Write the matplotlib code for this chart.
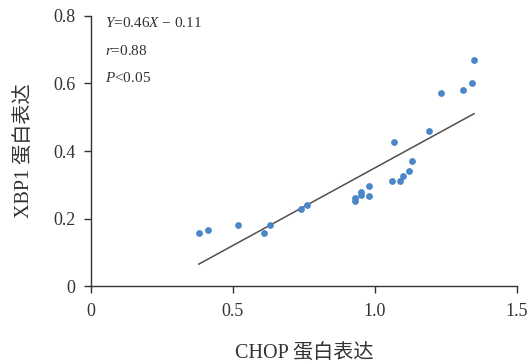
import matplotlib
matplotlib.use('Agg')
import matplotlib.pyplot as plt

# CHOP vs XBP1 protein expression
chop = [0.380, 0.412, 0.519, 0.611, 0.631, 0.741, 0.761, 0.930, 0.930, 0.951,
        0.951, 0.980, 0.980, 1.061, 1.069, 1.089, 1.100, 1.120, 1.130, 1.191,
        1.234, 1.310, 1.342, 1.349]
xbp1 = [0.158, 0.167, 0.181, 0.158, 0.181, 0.228, 0.240, 0.251, 0.260, 0.271,
        0.280, 0.268, 0.297, 0.310, 0.428, 0.310, 0.327, 0.341, 0.371, 0.458,
        0.571, 0.580, 0.600, 0.670]
slope, intercept = 0.46, -0.11
xticks = [0, 0.5, 1.0, 1.5]
xticklabels = ['0', '0.5', '1.0', '1.5']
yticks = [0, 0.2, 0.4, 0.6, 0.8]
yticklabels = ['0', '0.2', '0.4', '0.6', '0.8']

serif = ['Liberation Serif', 'Noto Sans CJK SC']
plt.rcParams['font.family'] = serif
plt.rcParams['mathtext.fontset'] = 'custom'
plt.rcParams['mathtext.it'] = 'Liberation Serif:italic'
plt.rcParams['mathtext.rm'] = 'Liberation Serif'

fig = plt.figure(figsize=(5.28, 3.63), dpi=100)
ax = fig.add_axes([0.172, 0.212, 0.807, 0.744])

ax.scatter(chop, xbp1, s=24, color='#4a86c8', zorder=3, linewidths=0)
x0, x1 = min(chop), max(chop)
ax.plot([x0, x1], [slope * x0 + intercept, slope * x1 + intercept],
        color='#505050', lw=1.1, zorder=2)

ax.set_xlim(0, 1.5)
ax.set_ylim(0, 0.8)
ax.set_xticks(xticks)
ax.set_xticklabels(xticklabels)
ax.set_yticks(yticks)
ax.set_yticklabels(yticklabels)
ax.spines['top'].set_visible(False)
ax.spines['right'].set_visible(False)
for s in ('left', 'bottom'):
    ax.spines[s].set_color('#333333')
    ax.spines[s].set_linewidth(1.0)
ax.tick_params(axis='both', direction='out', length=5, width=1.0,
               color='#333333', labelsize=13, labelcolor='#333333')
ax.tick_params(axis='x', pad=7)
ax.tick_params(axis='y', pad=6)

ax.set_xlabel('CHOP 蛋白表达', fontsize=14.5, color='#333333', labelpad=18)
ax.set_ylabel('XBP1 蛋白表达', fontsize=14.5, color='#333333', labelpad=13)

ax.text(0.05, 0.779, r'$Y$=0.46$X$ $-$ 0.11', fontsize=11, color='#333333', va='center')
ax.text(0.05, 0.696, r'$r$=0.88', fontsize=11, color='#333333', va='center')
ax.text(0.05, 0.616, r'$P$<0.05', fontsize=11, color='#333333', va='center')

fig.savefig('out.png', dpi=100)
